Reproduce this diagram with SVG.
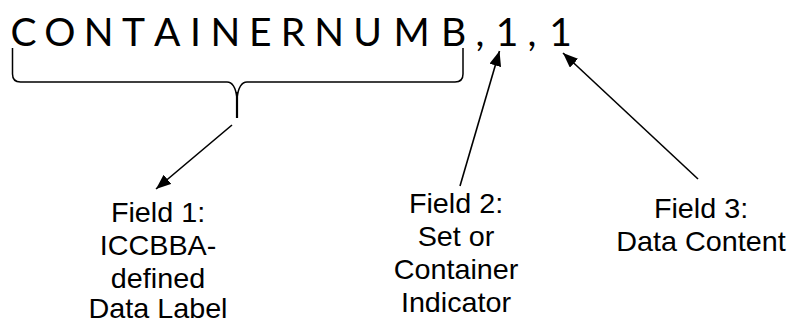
<svg xmlns="http://www.w3.org/2000/svg" width="792" height="324" viewBox="0 0 792 324">
  <style>
    .code { font-family: Lato, "Open Sans", sans-serif; font-size: 39px; fill: #000; text-anchor: middle; }
    .lbl { font-family: "Liberation Sans", Arial, sans-serif; font-size: 27px; fill: #000; text-anchor: middle; }
    .conn { stroke: #000; stroke-width: 1.6; fill: none; marker-end: url(#ah); }
    .brace { stroke: #000; stroke-width: 1.5; fill: none; }
  </style>
  <defs>
    <marker id="ah" viewBox="0 0 15 12" refX="15" refY="6" markerWidth="15" markerHeight="12" markerUnits="userSpaceOnUse" orient="auto">
      <path d="M0,0 L15,6 L0,12 z" fill="#000"/>
    </marker>
  </defs>
  <rect width="792" height="324" fill="#fff"/>

  <g id="code">
    <text class="code" y="46" x="23.6 59.9 98.7 133.6 167.1 195.5 225.4 260.3 293.0 329.2 367.7 411.5 453.5 480 507 532 560.5">CONTAINERNUMB,1,1</text>
  </g>

  <g id="brace">
    <path class="brace" d="M12.5,48 L12.5,74 Q12.5,82 20.5,82 L227,82 Q235,82 237,98"/>
    <path class="brace" d="M237,98 Q239,82 247,82 L455,82 Q463,82 463,74 L463,48"/>
    <line x1="237" y1="92" x2="237" y2="118" stroke="#000" stroke-width="2.2"/>
  </g>

  <g id="connectors">
    <line class="conn" x1="232" y1="125" x2="156" y2="189"/>
    <line class="conn" x1="460" y1="186" x2="499.5" y2="51"/>
    <line class="conn" x1="698" y1="179" x2="563" y2="53"/>
  </g>

  <g id="field1" transform="translate(158,0) scale(1.065,1)">
    <text class="lbl" x="0" y="222">Field 1:</text>
    <text class="lbl" x="0" y="255">ICCBBA-</text>
    <text class="lbl" x="0" y="288">defined</text>
    <text class="lbl" x="0" y="318">Data Label</text>
  </g>

  <g id="field2" transform="translate(456,0) scale(1.065,1)">
    <text class="lbl" x="0" y="213">Field 2:</text>
    <text class="lbl" x="0" y="246">Set or</text>
    <text class="lbl" x="0" y="279">Container</text>
    <text class="lbl" x="0" y="312">Indicator</text>
  </g>

  <g id="field3" transform="translate(701,0) scale(1.065,1)">
    <text class="lbl" x="0" y="218">Field 3:</text>
    <text class="lbl" x="0" y="251">Data Content</text>
  </g>
</svg>
